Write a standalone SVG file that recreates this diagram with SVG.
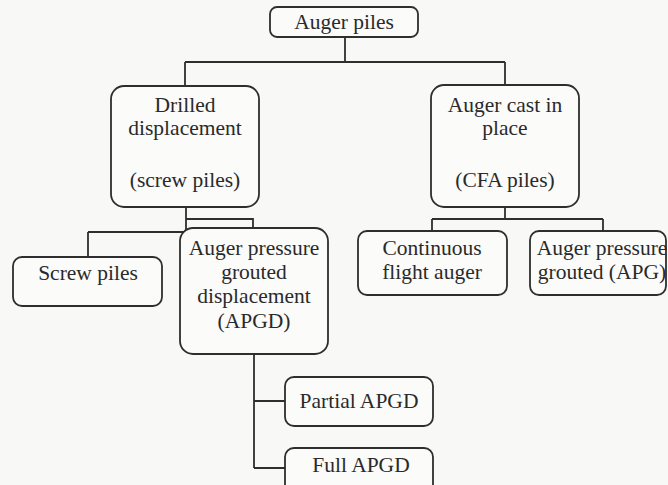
<svg xmlns="http://www.w3.org/2000/svg" width="668" height="485" viewBox="0 0 668 485">
  <style>
    .box { fill: #fbfbfa; stroke: #2e2e2e; stroke-width: 1.8; }
    .wire { fill: none; stroke: #2e2e2e; stroke-width: 1.8; }
    .lbl { font-family: 'Liberation Serif', 'DejaVu Serif', serif; font-size: 21.5px; fill: #2a2a2a; text-anchor: middle; }
  </style>
  <rect x="0" y="0" width="668" height="485" fill="#f8f8f6"/>

  <!-- connectors -->
  <g id="connectors">
    <path class="wire" d="M345 37 V62 M185 62 H505 M185 62 V86 M505 62 V85"/>
    <path class="wire" d="M186 207 V232 M186 219 H253 V228 M88 232 H186 M88 232 V257"/>
    <path class="wire" d="M505 207 V219 M432 219 H603 M432 219 V231 M603 219 V231"/>
    <path class="wire" d="M254 354 V468 M254 401 H285 M254 468 H285"/>
  </g>

  <g id="auger-piles">
    <rect class="box" x="270" y="7" width="148" height="30" rx="7"/>
    <text class="lbl" font-family="Liberation Serif, serif" x="344" y="29">Auger piles</text>
  </g>

  <g id="drilled-displacement">
    <rect class="box" x="111" y="86" width="148" height="121" rx="13"/>
    <text class="lbl" x="185" y="112">Drilled</text>
    <text class="lbl" x="185" y="135">displacement</text>
    <text class="lbl" x="185" y="187">(screw piles)</text>
  </g>

  <g id="auger-cast-in-place">
    <rect class="box" x="431" y="85" width="148" height="122" rx="13"/>
    <text class="lbl" x="505" y="112">Auger cast in</text>
    <text class="lbl" x="505" y="135">place</text>
    <text class="lbl" x="505" y="187">(CFA piles)</text>
  </g>

  <g id="screw-piles">
    <rect class="box" x="13" y="257" width="149" height="49" rx="9"/>
    <text class="lbl" x="88" y="280">Screw piles</text>
  </g>

  <g id="apgd">
    <rect class="box" x="180" y="228" width="148" height="126" rx="13"/>
    <text class="lbl" x="254" y="255">Auger pressure</text>
    <text class="lbl" x="254" y="279">grouted</text>
    <text class="lbl" x="254" y="303">displacement</text>
    <text class="lbl" x="254" y="328">(APGD)</text>
  </g>

  <g id="continuous-flight-auger">
    <rect class="box" x="358" y="231" width="149" height="64" rx="9"/>
    <text class="lbl" x="432" y="255">Continuous</text>
    <text class="lbl" x="432" y="279">flight auger</text>
  </g>

  <g id="apg">
    <rect class="box" x="530" y="231" width="136" height="64" rx="9"/>
    <text class="lbl" x="602" y="255">Auger pressure</text>
    <text class="lbl" x="602" y="279">grouted (APG)</text>
  </g>

  <g id="partial-apgd">
    <rect class="box" x="285" y="377" width="148" height="49" rx="9"/>
    <text class="lbl" x="359" y="408">Partial APGD</text>
  </g>

  <g id="full-apgd">
    <rect class="box" x="285" y="448" width="148" height="49" rx="9"/>
    <text class="lbl" x="361" y="472">Full APGD</text>
  </g>
</svg>
